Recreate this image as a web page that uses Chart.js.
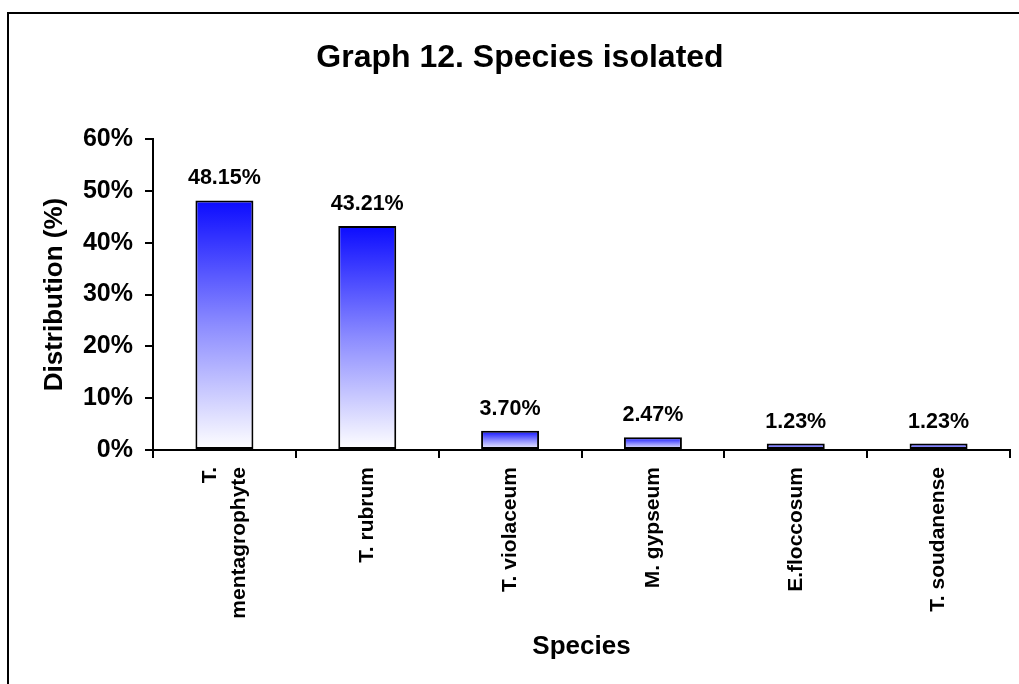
<!DOCTYPE html>
<html>
<head>
<meta charset="utf-8">
<title>Graph 12. Species isolated</title>
<script src="https://cdn.jsdelivr.net/npm/chart.js@4.4.1/dist/chart.umd.min.js"></script>
<style>
  html, body { margin: 0; padding: 0; background: #ffffff; }
  #wrap { width: 1019px; height: 684px; }
</style>
</head>
<body>
<div id="wrap"><canvas id="chart" width="1019" height="684"></canvas></div>
<script>
// Species isolated and their share of all isolates (%)
const species = [['T.', 'mentagrophyte'], 'T. rubrum', 'T. violaceum', 'M. gypseum', 'E.floccosum', 'T. soudanense'];
const distribution = [48.15, 43.21, 3.70, 2.47, 1.23, 1.23];
const yTicks = [0, 10, 20, 30, 40, 50, 60];

const FONT = '"Liberation Sans", Arial, Helvetica, sans-serif';

// Black frame along the top and left edges of the figure
const framePlugin = {
  id: 'frame',
  beforeDraw(chart) {
    const c = chart.ctx;
    c.save();
    c.fillStyle = '#ffffff';
    c.fillRect(0, 0, chart.width, chart.height);
    c.strokeStyle = '#000000';
    c.lineWidth = 2;
    c.beginPath();
    c.moveTo(8, chart.height);
    c.lineTo(8, 13);
    c.lineTo(chart.width, 13);
    c.stroke();
    c.restore();
  }
};

// Keep two-line category labels centred on their tick
const centreLabelsPlugin = {
  id: 'centreLabels',
  beforeDraw(chart) {
    const items = chart.scales.x.getLabelItems();
    items.forEach(item => {
      if (item._centred) return;
      const n = Array.isArray(item.label) ? item.label.length : 1;
      if (n > 1) item.textOffset -= (n - 1) * item.font.lineHeight / 2;
      item._centred = true;
    });
  }
};

// Value labels above each bar
const valueLabelsPlugin = {
  id: 'valueLabels',
  afterDatasetsDraw(chart) {
    const c = chart.ctx;
    const meta = chart.getDatasetMeta(0);
    c.save();
    c.font = 'bold 21.5px ' + FONT;
    c.fillStyle = '#000000';
    c.textAlign = 'center';
    c.textBaseline = 'middle';
    meta.data.forEach((bar, i) => {
      c.fillText(distribution[i].toFixed(2) + '%', bar.x, bar.y - 22);
    });
    c.restore();
  }
};

function barGradient(context) {
  const chart = context.chart;
  if (!chart.chartArea) return '#8080ff';
  const y = chart.scales.y;
  const top = y.getPixelForValue(context.raw);
  const bottom = y.getPixelForValue(0);
  const g = chart.ctx.createLinearGradient(0, top, 0, bottom);
  g.addColorStop(0, 'rgb(12,12,255)');
  g.addColorStop(0.5, 'rgb(140,140,255)');
  g.addColorStop(1, 'rgb(255,255,255)');
  return g;
}

new Chart(document.getElementById('chart'), {
  type: 'bar',
  data: {
    labels: species,
    datasets: [{
      data: distribution,
      backgroundColor: barGradient,
      borderColor: '#000000',
      borderWidth: 2,
      borderSkipped: false,
      categoryPercentage: 1,
      barPercentage: 0.406
    }]
  },
  options: {
    responsive: false,
    devicePixelRatio: 1,
    animation: false,
    events: [],
    layout: { padding: { left: 30, right: 9, top: 0, bottom: 0 } },
    plugins: {
      legend: { display: false },
      tooltip: { enabled: false },
      title: {
        display: true,
        text: 'Graph 12. Species isolated',
        color: '#000000',
        font: { family: FONT, size: 32, weight: 'bold', lineHeight: 1.2 },
        padding: { top: 39, bottom: 61.6 }
      }
    },
    scales: {
      x: {
        afterFit(scale) { scale.height = 234; },
        grid: {
          display: true,
          drawOnChartArea: false,
          drawTicks: true,
          tickLength: 8,
          color: '#000000',
          lineWidth: 2,
          offset: true
        },
        border: { display: true, color: '#000000', width: 2 },
        ticks: {
          autoSkip: false,
          maxRotation: 90,
          minRotation: 90,
          padding: 9,
          color: '#000000',
          font: { family: FONT, size: 21, weight: 'bold', lineHeight: 1.4 }
        },
        title: {
          display: true,
          text: 'Species',
          color: '#000000',
          font: { family: FONT, size: 26, weight: 'bold', lineHeight: 1.2 },
          padding: { top: 0, bottom: 22 }
        }
      },
      y: {
        min: 0,
        max: 60,
        afterFit(scale) { scale.width = 123; },
        afterBuildTicks(scale) { scale.ticks = yTicks.map(v => ({ value: v })); },
        grid: {
          display: true,
          drawOnChartArea: false,
          drawTicks: true,
          tickLength: 8,
          color: '#000000',
          lineWidth: 2
        },
        border: { display: true, color: '#000000', width: 2 },
        ticks: {
          padding: 12,
          color: '#000000',
          font: { family: FONT, size: 25, weight: 'bold' },
          callback: v => v + '%'
        },
        title: {
          display: true,
          text: 'Distribution (%)',
          color: '#000000',
          font: { family: FONT, size: 26, weight: 'bold', lineHeight: 1.2 },
          padding: { top: 9, bottom: 0 }
        }
      }
    }
  },
  plugins: [framePlugin, centreLabelsPlugin, valueLabelsPlugin]
});
</script>
</body>
</html>
